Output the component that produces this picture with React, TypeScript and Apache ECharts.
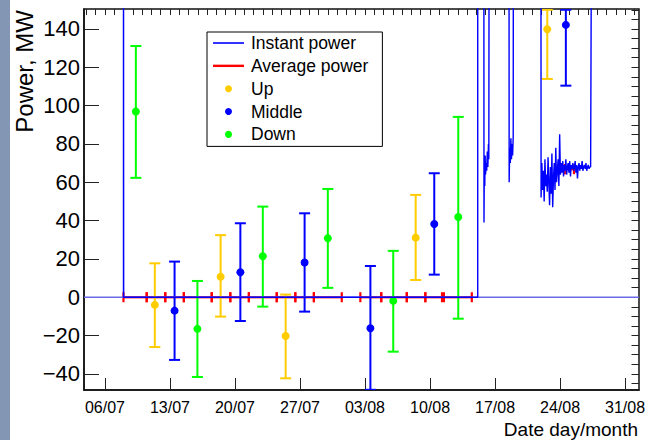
import React, { useEffect, useRef } from 'react';
import * as echarts from 'echarts';

// ---------- helpers ----------
const YEAR = 2018;
function t(s: string): number {
  const [d, hm] = s.split(' ');
  const [dd, mm] = d.split('/').map(Number);
  const [h, mi] = (hm || '00:00').split(':').map(Number);
  return Date.UTC(YEAR, mm - 1, dd, h, mi);
}

// ---------- axes ----------
const xMin = '03/07 18:00';
const xMax = '01/09 12:00';
const yMin = -48.4;
const yMax = 150.4;
const xTickLabels = ['06/07', '13/07', '20/07', '27/07', '03/08', '10/08', '17/08', '24/08', '31/08'];
const yTickValues = [-40, -20, 0, 20, 40, 60, 80, 100, 120, 140];

// ---------- measurements with errors ----------
const upTimes = ['11/07 09:00', '18/07 11:00', '25/07 11:00', '08/08 11:00', '22/08 15:00'];
const upValues = [-4.0, 10.7, -20.2, 31.1, 139.8];
const upLow = [-26.0, -10.1, -42.3, 9.0, 113.9];
const upHigh = [17.7, 32.4, 1.4, 53.4, 150.0];

const middleTimes = ['13/07 12:00', '20/07 14:00', '27/07 12:00', '03/08 14:00', '10/08 11:00', '24/08 15:00'];
const middleValues = [-7.0, 13.0, 18.1, -16.2, 38.2, 142.1];
const middleLow = [-32.7, -12.4, -7.5, -48.3, 11.8, 110.4];
const middleHigh = [18.6, 38.6, 43.8, 16.3, 64.7, 150.0];

const downTimes = ['09/07 08:00', '15/07 23:00', '23/07 00:00', '30/07 00:00', '06/08 01:00', '13/08 01:00'];
const downValues = [96.9, -16.5, 21.4, 30.8, -1.9, 41.9];
const downLow = [62.3, -41.6, -4.9, 4.9, -28.4, -11.2];
const downHigh = [131.1, 8.5, 47.3, 56.5, 24.2, 94.1];

// ---------- average power (interval averages) ----------
const avgStart = ['08/07 00:00', '10/07 12:00', '12/07 12:00', '14/07 12:00', '17/07 12:00', '19/07 12:00',
  '21/07 12:00', '24/07 12:00', '26/07 12:00', '28/07 12:00', '02/08 12:00', '04/08 18:00', '07/08 12:00',
  '09/08 12:00', '11/08 12:00', '23/08 12:00', '24/08 12:00'];
const avgEnd = ['10/07 12:00', '12/07 12:00', '14/07 12:00', '17/07 12:00', '19/07 12:00', '21/07 12:00',
  '24/07 12:00', '26/07 12:00', '28/07 12:00', '31/07 12:00', '04/08 18:00', '07/08 12:00', '09/08 12:00',
  '11/08 07:00', '14/08 12:00', '24/08 12:00', '25/08 12:00'];
const avgValues = [0, 0, 0, 0, 0, 0, 0, 0, 0, 0, 0, 0, 0, 0, 0, 66.8, 66.8];

// ---------- instant power (values above 150 are off scale) ----------
const instBeforeTimes = ['08/07 00:00', '08/07 00:00', '08/07 00:30', '15/08 03:20', '15/08 03:20',
  '15/08 19:00', '15/08 19:30', '15/08 20:30', '15/08 21:30', '15/08 22:30', '15/08 23:30', '16/08 01:00',
  '16/08 02:30', '16/08 04:00', '16/08 05:30', '16/08 07:00', '16/08 08:00', '16/08 09:00',
  '18/08 12:00', '18/08 12:30', '18/08 14:00', '18/08 15:30', '18/08 17:00', '18/08 18:30', '18/08 20:00',
  '18/08 21:30', '18/08 23:00', '18/08 23:30', '21/08 22:30'];
const instBeforeValues = [0, 250, 0, 0, 250,
  250, 39, 72, 58, 74, 64, 70,
  66, 76, 68, 80, 72, 250,
  250, 60, 78, 70, 83, 72, 80,
  74, 84, 250, 250];
const runStart = '21/08 23:00';
const runStepHours = 2;
const runValues = [52, 70, 56, 66, 50, 72, 58, 64,
  55, 73, 60, 48, 68, 54, 75, 47, 62,
  70, 56, 78, 60, 66, 72, 58, 85, 64, 70,
  65, 71, 63, 69, 66, 72, 64, 68, 70, 65, 71, 63, 69, 67,
  70, 66, 68, 71, 65, 69, 62, 68, 70, 66, 69, 67, 71, 66, 68, 69, 67, 70, 66, 68, 69, 67, 68, 68];
const instAfterTimes = ['27/08 08:00', '27/08 10:00'];
const instAfterValues = [125, 250];

const zeroLineValues = [0, 0];

const FONT = '"Liberation Sans", Arial, Helvetica, sans-serif';
const BLUE = '#0000ff';
const RED = '#ff0000';
const YELLOW = '#ffcc00';
const GREEN = '#00ff00';

function errorSeries(name: string, color: string, times: string[], vals: number[], lo: number[], hi: number[]) {
  return {
    type: 'custom',
    name,
    color,
    itemStyle: { color },
    clip: true,
    encode: { x: 0, y: [1, 2, 3] },
    data: times.map((s, i) => [t(s), vals[i], lo[i], hi[i]]),
    renderItem: (params: any, api: any) => {
      const x = api.value(0);
      const pc = api.coord([x, api.value(1)]);
      const pl = api.coord([x, api.value(2)]);
      const ph = api.coord([x, api.value(3)]);
      const half = 5.5;
      const st = { stroke: color, lineWidth: 2 };
      return {
        type: 'group',
        children: [
          { type: 'line', shape: { x1: pl[0], y1: pl[1], x2: ph[0], y2: ph[1] }, style: st },
          { type: 'line', shape: { x1: pl[0] - half, y1: pl[1], x2: pl[0] + half, y2: pl[1] }, style: st },
          { type: 'line', shape: { x1: ph[0] - half, y1: ph[1], x2: ph[0] + half, y2: ph[1] }, style: st },
          { type: 'circle', shape: { cx: pc[0], cy: pc[1], r: 4 }, style: { fill: color } },
        ],
      };
    },
  };
}

export default function App() {
  const ref = useRef<HTMLDivElement>(null);
  useEffect(() => {
    if (!ref.current) return;
    const chart = echarts.init(ref.current, null, { renderer: 'svg' });

    const xTickValues = xTickLabels.map((l) => t(l + ' 00:00'));
    const labelMap = new Map<number, string>();
    xTickValues.forEach((v, i) => labelMap.set(v, xTickLabels[i]));
    const dayTicks: number[] = [];
    for (let d = t('04/07 00:00'); d <= t(xMax); d += 86400000) dayTicks.push(d);
    const minorY: number[] = [];
    for (let v = -45; v <= 150; v += 5) minorY.push(v);

    const instData: any[] = instBeforeTimes.map((s, i) => [t(s), instBeforeValues[i]]);
    const r0 = t(runStart);
    runValues.forEach((v, i) => instData.push([r0 + i * runStepHours * 3600000, v]));
    instAfterTimes.forEach((s, i) => instData.push([t(s), instAfterValues[i]]));

    const frameColor = '#111';
    const option: any = {
      animation: false,
      backgroundColor: '#ffffff',
      textStyle: { fontFamily: FONT },
      grid: {
        left: 84, right: 9, top: 9, bottom: 50,
        show: true, borderColor: frameColor, borderWidth: 1.5, backgroundColor: 'transparent',
        outerBoundsMode: 'none',
      },
      legend: {
        orient: 'vertical',
        left: 207,
        top: 32,
        backgroundColor: '#ffffff',
        borderColor: '#000',
        borderWidth: 1,
        padding: [1, 14, 2, 6],
        itemWidth: 31,
        itemHeight: 7,
        itemGap: 2.85,
        selectedMode: false,
        textStyle: { color: '#000', fontSize: 17.5, fontFamily: FONT, lineHeight: 20, padding: [0, 0, 0, 2] },
        data: [
          { name: 'Instant power', icon: 'path://M0,0L31,0L31,1.6L0,1.6Z', itemStyle: { color: BLUE } },
          { name: 'Average power', icon: 'path://M0,0L31,0L31,2.4L0,2.4Z', itemStyle: { color: RED } },
          { name: 'Up', icon: 'circle', itemStyle: { color: YELLOW } },
          { name: 'Middle', icon: 'circle', itemStyle: { color: BLUE } },
          { name: 'Down', icon: 'circle', itemStyle: { color: GREEN } },
        ],
      },
      xAxis: [
        {
          type: 'value', min: t(xMin), max: t(xMax),
          axisLine: { show: true, onZero: false, lineStyle: { color: frameColor, width: 1.5 } },
          axisTick: { show: true, inside: true, length: 12, customValues: xTickValues, lineStyle: { color: '#222', width: 1 } },
          axisLabel: {
            customValues: xTickValues, formatter: (v: number) => labelMap.get(v) ?? '',
            color: '#000', fontSize: 16, fontFamily: FONT, margin: 9,
          },
          splitLine: { show: false },
        },
        {
          type: 'value', min: t(xMin), max: t(xMax),
          axisLine: { show: false, onZero: false },
          axisTick: { show: true, inside: true, length: 6, customValues: dayTicks, lineStyle: { color: '#222', width: 1 } },
          axisLabel: { show: false },
          splitLine: { show: false },
        },
      ],
      yAxis: [
        {
          type: 'value', min: yMin, max: yMax,
          axisLine: { show: true, onZero: false, lineStyle: { color: frameColor, width: 1.5 } },
          axisTick: { show: true, inside: true, length: 15, customValues: yTickValues, lineStyle: { color: '#222', width: 1 } },
          axisLabel: {
            customValues: yTickValues,
            formatter: (v: number) => (v < 0 ? '\u2212' + String(-v) : String(v)),
            color: '#000', fontSize: 22, fontFamily: FONT, margin: 4,
          },
          splitLine: { show: false },
        },
        {
          type: 'value', min: yMin, max: yMax,
          axisLine: { show: false, onZero: false },
          axisTick: { show: true, inside: true, length: 7.5, customValues: minorY, lineStyle: { color: '#222', width: 1 } },
          axisLabel: { show: false },
          splitLine: { show: false },
        },
      ],
      graphic: [
        { type: 'rect', shape: { x: 0, y: 0, width: 10, height: 440 }, style: { fill: '#8397b5' }, z: 10 },
        {
          type: 'text', x: 24, y: 10, rotation: Math.PI / 2,
          style: { text: 'Power, MW', align: 'right', verticalAlign: 'middle', fontSize: 24, fontFamily: FONT, fill: '#000' },
        },
        {
          type: 'text', x: 638, y: 429,
          style: { text: 'Date day/month', align: 'right', verticalAlign: 'middle', fontSize: 19, fontFamily: FONT, fill: '#000' },
        },
      ],
      series: [
        {
          type: 'line', name: 'zero', silent: true, symbol: 'none',
          data: [[t(xMin), zeroLineValues[0]], [t(xMax), zeroLineValues[1]]],
          lineStyle: { color: '#6a6ae6', width: 1.4 },
        },
        {
          type: 'line', name: 'Instant power', symbol: 'none', clip: true,
          color: BLUE,
          data: instData,
          lineStyle: { color: BLUE, width: 1.4 },
        },
        {
          type: 'custom', name: 'Average power', color: RED, itemStyle: { color: RED }, clip: true,
          encode: { x: [0, 1], y: 2 },
          data: avgStart.map((s, i) => [t(s), t(avgEnd[i]), avgValues[i]]),
          renderItem: (params: any, api: any) => {
            const a = api.coord([api.value(0), api.value(2)]);
            const b = api.coord([api.value(1), api.value(2)]);
            const st = { stroke: RED, lineWidth: 2.2 };
            return {
              type: 'group',
              children: [
                { type: 'line', shape: { x1: a[0], y1: a[1], x2: b[0], y2: b[1] }, style: st },
                { type: 'line', shape: { x1: a[0], y1: a[1] - 5, x2: a[0], y2: a[1] + 5 }, style: st },
                { type: 'line', shape: { x1: b[0], y1: b[1] - 5, x2: b[0], y2: b[1] + 5 }, style: st },
              ],
            };
          },
        },
        errorSeries('Up', YELLOW, upTimes, upValues, upLow, upHigh),
        errorSeries('Middle', BLUE, middleTimes, middleValues, middleLow, middleHigh),
        errorSeries('Down', GREEN, downTimes, downValues, downLow, downHigh),
      ],
    };
    chart.setOption(option);
    return () => chart.dispose();
  }, []);
  return <div ref={ref} style={{ width: 648, height: 440, position: 'fixed', left: 0, top: 0 }} />;
}
